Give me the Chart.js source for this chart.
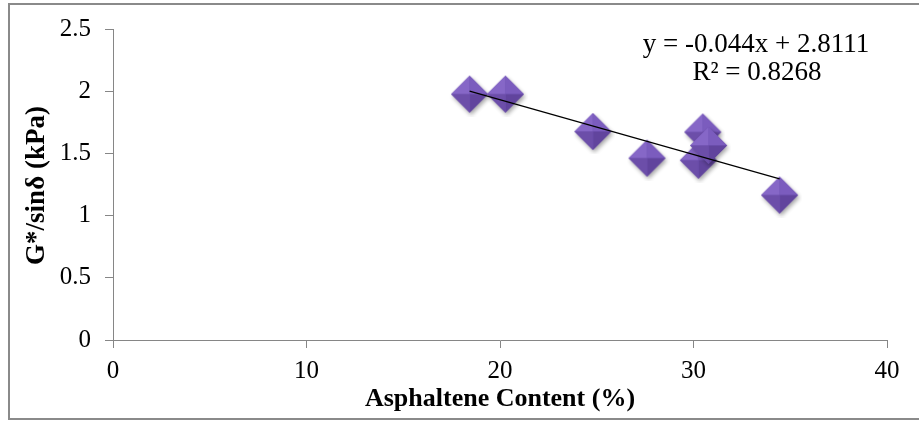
<!DOCTYPE html>
<html>
<head>
<meta charset="utf-8">
<script src="https://cdn.jsdelivr.net/npm/chart.js@4.4.1/dist/chart.umd.min.js"></script>
<style>
  html, body { margin: 0; padding: 0; background: #fff; }
  #wrap { width: 919px; height: 421px; position: relative; }
</style>
</head>
<body>
<div id="wrap"><canvas id="asphChart" width="919" height="421"></canvas></div>
<script>
// values
const asphaltene = [18.43, 20.28, 24.8, 27.6, 30.25, 30.48, 30.78, 34.45];
const gStarSin = [1.976, 1.976, 1.676, 1.462, 1.445, 1.672, 1.564, 1.165];
const xTicks = [0, 10, 20, 30, 40];
const yTicks = [0, 0.5, 1, 1.5, 2, 2.5];
const trendSlope = -0.044;
const trendIntercept = 2.8111;
const trendLabel = ["y = -0.044x + 2.8111", "R\u00b2 = 0.8268"];
const xTitle = "Asphaltene Content (%)";
const yTitle = "G*/sin\u03b4 (kPa)";

const serif = "'Liberation Serif', 'Times New Roman', serif";

// bevelled purple diamond like the excel marker
function makeDiamond(r) {
  const c = document.createElement("canvas");
  const s = Math.ceil(r * 2 + 8);
  c.width = s; c.height = s;
  const g = c.getContext("2d");
  const cx = s / 2, cy = s / 2;
  g.save();
  g.shadowColor = "rgba(0,0,0,0.35)";
  g.shadowBlur = 4;
  g.shadowOffsetX = 1.5;
  g.shadowOffsetY = 2.5;
  g.beginPath();
  g.moveTo(cx - r, cy); g.lineTo(cx, cy - r); g.lineTo(cx + r, cy); g.lineTo(cx, cy + r);
  g.closePath();
  g.fillStyle = "#7052b2";
  g.fill();
  g.restore();
  const facets = [
    [[cx - r, cy], [cx, cy - r], "#8667c7"],
    [[cx, cy - r], [cx + r, cy], "#7b5cbe"],
    [[cx + r, cy], [cx, cy + r], "#61449d"],
    [[cx, cy + r], [cx - r, cy], "#6c4ea9"]
  ];
  facets.forEach(f => {
    g.beginPath();
    g.moveTo(f[0][0], f[0][1]);
    g.lineTo(f[1][0], f[1][1]);
    g.lineTo(cx, cy);
    g.closePath();
    g.fillStyle = f[2];
    g.fill();
  });
  return c;
}

const diamond = makeDiamond(18.5);

const points = asphaltene.map((x, i) => ({ x: x, y: gStarSin[i] }));
const xMin = Math.min(...asphaltene), xMax = Math.max(...asphaltene);
const trend = [xMin, xMax].map(x => ({ x: x, y: trendSlope * x + trendIntercept }));

const frameAndText = {
  id: "frameAndText",
  beforeDraw(chart) {
    const ctx = chart.ctx;
    ctx.save();
    ctx.fillStyle = "#fff";
    ctx.fillRect(0, 0, chart.width, chart.height);
    ctx.strokeStyle = "#8a8a8a";
    ctx.lineWidth = 2;
    ctx.strokeRect(9, 4, 930, 415);
    ctx.restore();
  },
  afterDraw(chart) {
    const ctx = chart.ctx;
    const area = chart.chartArea;
    ctx.save();
    ctx.fillStyle = "#000";
    ctx.textAlign = "center";
    ctx.textBaseline = "alphabetic";
    ctx.font = "27px " + serif;
    ctx.fillText(trendLabel[0], 756, 52);
    ctx.fillText(trendLabel[1], 757, 80);
    ctx.font = "bold 26px " + serif;
    ctx.textBaseline = "middle";
    ctx.fillText(xTitle, (area.left + area.right) / 2, 399);
    ctx.translate(37, (area.top + area.bottom) / 2 + 1);
    ctx.rotate(-Math.PI / 2);
    ctx.font = "bold 27px " + serif;
    ctx.fillText(yTitle, 0, 0);
    ctx.restore();
  }
};

new Chart(document.getElementById("asphChart").getContext("2d"), {
  type: "scatter",
  data: {
    datasets: [
      {
        label: "G*/sin\u03b4",
        data: points,
        pointStyle: diamond,
        pointRadius: 18.5,
        order: 2
      },
      {
        label: "Linear (G*/sin\u03b4)",
        type: "line",
        data: trend,
        borderColor: "#000",
        borderWidth: 1.2,
        pointRadius: 0,
        fill: false,
        order: 1
      }
    ]
  },
  options: {
    responsive: false,
    animation: false,
    layout: { padding: { left: 0, top: 24, right: 32, bottom: 0 } },
    plugins: {
      legend: { display: false },
      tooltip: { enabled: false }
    },
    scales: {
      x: {
        type: "linear",
        min: xTicks[0],
        max: xTicks[xTicks.length - 1],
        afterBuildTicks: axis => { axis.ticks = xTicks.map(v => ({ value: v })); },
        afterFit: axis => { axis.height = 81; },
        border: { display: true, color: "#868686", width: 1 },
        grid: { display: true, drawOnChartArea: false, drawTicks: true, tickLength: 8, color: "#868686" },
        ticks: { color: "#000", padding: 8, font: { family: serif, size: 25 }, callback: v => String(v) }
      },
      y: {
        min: yTicks[0],
        max: yTicks[yTicks.length - 1],
        afterBuildTicks: axis => { axis.ticks = yTicks.map(v => ({ value: v })); },
        afterFit: axis => { axis.width = 113; },
        border: { display: true, color: "#868686", width: 1 },
        grid: { display: true, drawOnChartArea: false, drawTicks: true, tickLength: 8, color: "#868686" },
        ticks: { color: "#000", padding: 14, font: { family: serif, size: 25 }, callback: v => String(v) }
      }
    }
  },
  plugins: [frameAndText]
});
</script>
</body>
</html>
